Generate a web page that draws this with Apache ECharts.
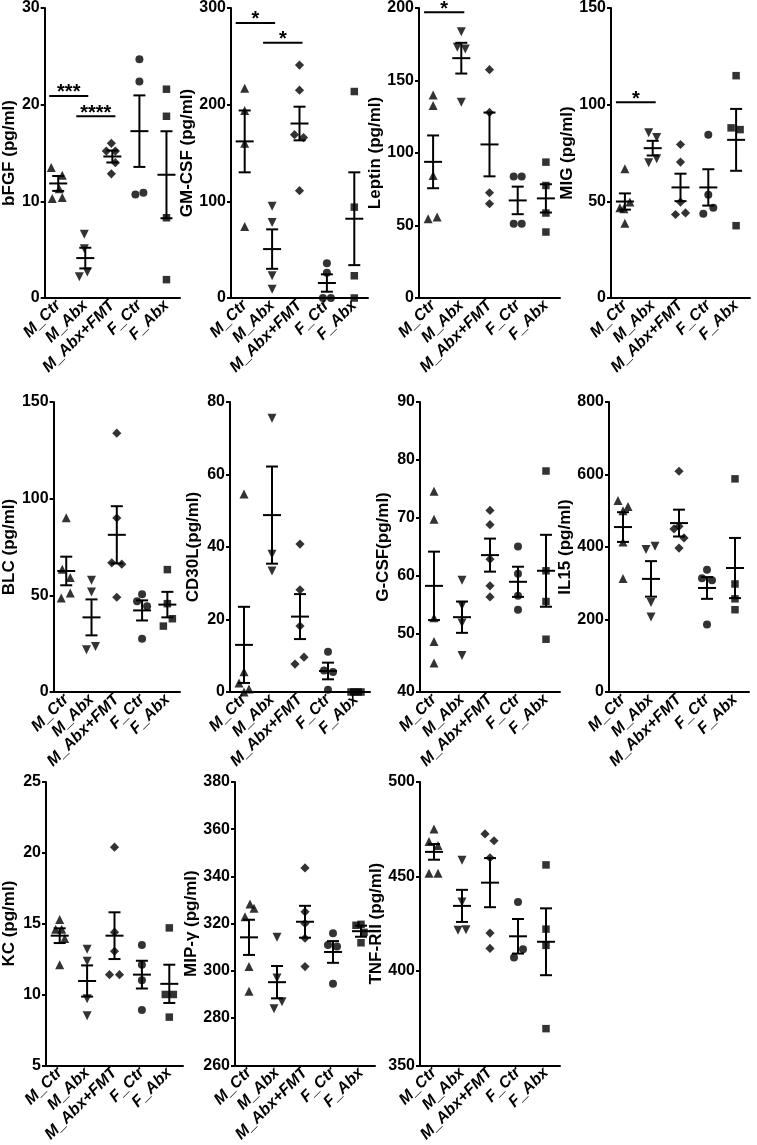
<!DOCTYPE html>
<html><head><meta charset="utf-8">
<script src="https://cdn.jsdelivr.net/npm/echarts@6/dist/echarts.min.js"></script>
<style>html,body{margin:0;padding:0;background:#fff}#c{width:757px;height:1145px}</style>
</head><body><div id="c"></div>
<script>
// ---------- DATA ----------
const categories = ['M_Ctr', 'M_Abx', 'M_Abx+FMT', 'F_Ctr', 'F_Abx'];

const bfgfValues = [[13.5, 12.7, 11.3, 10.3, 10.4], [6.6, 5.1, 2.2, 2.7], [16.0, 15.2, 15.2, 14.0, 12.85], [24.7, 22.4, 10.7, 10.9], [21.6, 18.8, 8.3, 1.9]];
const bfgfMean = [11.85, 4.13, 14.64, 17.26, 12.75];
const bfgfSem = [0.77, 1.07, 0.62, 3.7, 4.5];
const bfgfSig = [[0, 1, 20.9], [1, 2, 18.8]];
const bfgfSigText = ['***', '****'];

const gmcsfValues = [[217, 194, 160, 74], [95, 78, 23, 9], [241, 215, 169, 166, 111], [36, 26, 0, 0], [213.6, 94, 23, 0]];
const gmcsfMean = [162, 50.6, 180.5, 15.5, 82];
const gmcsfSem = [32, 20.4, 17.4, 9, 48];
const gmcsfSig = [[0, 1, 284.5], [1, 2, 264]];
const gmcsfSigText = ['*', '*'];

const leptinValues = [[140, 132.7, 84.5, 54.6, 55.8], [183.7, 172.9, 171.8, 135], [157.5, 128, 72.6, 65], [83.8, 83.8, 51.2, 51.2], [93.7, 77.6, 58.6, 45.5]];
const leptinMean = [93.9, 165.4, 105.9, 67.3, 68.7];
const leptinSem = [18.2, 10.6, 22, 9.5, 9.75];
const leptinSig = [[0, 1, 197]];
const leptinSigText = ['*'];

const migValues = [[66.8, 49.6, 46.7, 46.2, 38.7], [85.5, 83, 72, 70], [79.4, 70.3, 49.6, 43.2, 44], [84.4, 53.4, 43.6, 46.7], [115, 88, 87.1, 37.4]];
const migMean = [49.9, 77.5, 57.2, 57.2, 81.8];
const migSem = [4.2, 3.8, 7.1, 9.4, 16];
const migSig = [[0, 1, 101.3]];
const migSigText = ['*'];

const blcValues = [[90.1, 63.5, 59.2, 48.6, 51.2], [57.8, 51.7, 21.8, 23.5], [133.9, 90, 66.8, 66.1, 49], [50.5, 46.9, 44.3, 27.5], [63.3, 45.7, 34.1, 37.9]];
const blcMean = [62.6, 38.6, 81.3, 42.2, 45.2];
const blcSem = [7.4, 9.3, 14.8, 5.2, 6.6];

const cd30lValues = [[54.6, 5.6, 2.5, 0.8, 0], [75.5, 38, 33.4], [40.8, 28.2, 18.2, 7.7, 9.6], [11.1, 5.9, 5.5, 0.6], [0, 0, 0, 0]];
const cd30lMean = [13, 48.8, 20.8, 5.8, 0];
const cd30lSem = [10.5, 13.4, 6.2, 2.3, 0];

const gcsfValues = [[74.6, 69.8, 52.8, 48.7, 45], [59.25, 54.9, 51.9, 46.3], [71.3, 68.85, 62.9, 58.3, 56.4], [65.1, 60.4, 56.6, 54.2], [78.1, 60.9, 55.6, 49.1]];
const gcsfMean = [58.3, 52.9, 63.6, 59.0, 60.9];
const gcsfSem = [5.9, 2.7, 2.85, 2.6, 6.2];

const il15Values = [[528, 500, 512, 414, 313], [393, 402, 247, 207], [609, 450, 457, 425, 397], [337, 314, 308, 186], [588, 298, 257, 227]];
const il15Mean = [455, 312, 466, 287, 342];
const il15Sem = [41, 49, 37, 30, 83];

const kcValues = [[15.3, 14.6, 14.6, 13.95, 12.1], [13.2, 12.35, 9.7, 8.5], [20.4, 14.4, 13.05, 11.4, 11.4], [13.5, 12.1, 11.0, 8.9], [14.7, 10, 10, 8.4]];
const kcMean = [14.15, 10.95, 14.15, 11.4, 10.75];
const kcSem = [0.52, 1.1, 1.65, 0.98, 1.35];

const mipValues = [[328.3, 326.5, 322.9, 301.8, 291.4], [314.2, 297, 283.9, 286.9], [343.6, 325, 320.1, 313.8, 301.8], [315.9, 311, 310.3, 294.5], [319.7, 319.3, 316.3, 311.9]];
const mipMean = [314.2, 295.2, 320.8, 308, 316.8];
const mipSem = [7.45, 6.85, 6.75, 4.6, 2.35];

const tnfValues = [[475.1, 468.5, 466.4, 451.7, 451.7], [458.5, 436.5, 421.5, 421.8], [472.5, 468.9, 459.9, 420, 411.9], [436.5, 407.1, 411.4], [456.1, 422.1, 413.5, 369.4]];
const tnfMean = [463, 434.4, 446.7, 418.3, 415.4];
const tnfSem = [4.15, 8.5, 13, 9.15, 17.7];

// ---------- STYLE (horizontal jitter in px, layout) ----------
const bfgfJit = [[-7, 4, 1, -6, 4], [-1, -1, -6, 2], [-1, -6, 3, 3, -1], [0, 0, -4, 4], [0, 0, 0, 0]];
const gmcsfJit = [[0, 0, 0, 0], [0, 0, 0, 0], [0, 0, -5, 4, 0], [0, 0, -4, 4], [0, 0, 0, 0]];
const leptinJit = [[0, 0, 0, -5, 4], [0, -4, 4, 0], [0, 0, 0, 0], [-4, 4, -4, 4], [0, 0, 0, 0]];
const migJit = [[0, 5, -5, -1, 0], [-4, 4, 4, -4], [0, 0, 0, -5, 5], [0, 0, -5, 5], [0, -5, 4, 0]];
const blcJit = [[0, -4, 4, -5, 4], [0, 0, -5, 4], [0, 0, -5, 5, 0], [0, -5, 5, 0], [0, 0, -4, 5]];
const cd30lJit = [[0, 0, -5, 5, 0], [0, 0, 0], [0, 0, 0, -5, 4], [0, -4, 5, 0], [-5, 5, -2, 2]];
const gcsfJit = [[0, 0, 0, 0, 0], [0, 0, 0, 0], [0, 0, 0, 0, 0], [0, 0, 0, 0], [0, 0, 0, 0]];
const il15Jit = [[-5, 0, 5, 0, 0], [-5, 4, 0, 0], [0, -5, 0, 5, 0], [0, -5, 5, 0], [0, 0, 0, 0]];
const kcJit = [[0, -4, 2, 5, 0], [0, 0, 0, 0], [0, 0, 0, -5, 5], [0, 0, 0, 0], [0, -4, 4, 0]];
const mipJit = [[1, 5, -4, 0, 0], [0, 0, -3, 5], [0, 0, 0, 0, 0], [0, -5, 4, 0], [0, -5, 3, 0]];
const tnfJit = [[0, -5, 4, -5, 4], [0, 0, -4, 4], [-5, 4, 0, 0, 0], [0, -4, 5], [0, 0, 0, 0]];

const panels = [
  {name: 'bFGF (pg/ml)', v: bfgfValues, m: bfgfMean, s: bfgfSem, j: bfgfJit, sig: bfgfSig, sigT: bfgfSigText, min: 0, max: 30, step: 10, L: 40, T: 7, W: 140, H: 291, gap: 22},
  {name: 'GM-CSF (pg/ml)', v: gmcsfValues, m: gmcsfMean, s: gmcsfSem, j: gmcsfJit, sig: gmcsfSig, sigT: gmcsfSigText, min: 0, max: 300, step: 100, L: 231, T: 7, W: 137, H: 291, gap: 35},
  {name: 'Leptin (pg/ml)', v: leptinValues, m: leptinMean, s: leptinSem, j: leptinJit, sig: leptinSig, sigT: leptinSigText, min: 0, max: 200, step: 50, L: 419, T: 7, W: 141, H: 291, gap: 32},
  {name: 'MIG (pg/ml)', v: migValues, m: migMean, s: migSem, j: migJit, sig: migSig, sigT: migSigText, min: 0, max: 150, step: 50, L: 611, T: 7, W: 139, H: 291, gap: 34},
  {name: 'BLC (pg/ml)', v: blcValues, m: blcMean, s: blcSem, j: blcJit, min: 0, max: 150, step: 50, L: 40, T: 402, W: 140, H: 290, gap: 25},
  {name: 'CD30L(pg/ml)', v: cd30lValues, m: cd30lMean, s: cd30lSem, j: cd30lJit, min: 0, max: 80, step: 20, L: 230, T: 402, W: 140, H: 290, gap: 28},
  {name: 'G-CSF(pg/ml)', v: gcsfValues, m: gcsfMean, s: gcsfSem, j: gcsfJit, min: 40, max: 90, step: 10, L: 420, T: 402, W: 140, H: 290, gap: 28},
  {name: 'IL15 (pg/ml)', v: il15Values, m: il15Mean, s: il15Sem, j: il15Jit, min: 0, max: 800, step: 200, L: 609, T: 402, W: 140, H: 290, gap: 32},
  {name: 'KC (pg/ml)', v: kcValues, m: kcMean, s: kcSem, j: kcJit, min: 5, max: 25, step: 5, L: 43, T: 782, W: 140, H: 290, gap: 28},
  {name: 'MIP-γ (pg/ml)', v: mipValues, m: mipMean, s: mipSem, j: mipJit, min: 260, max: 380, step: 20, L: 235, T: 782, W: 140, H: 290, gap: 33},
  {name: 'TNF-RII (pg/ml)', v: tnfValues, m: tnfMean, s: tnfSem, j: tnfJit, min: 350, max: 500, step: 50, L: 420, T: 782, W: 140, H: 290, gap: 33}
];

const FONT = '"Liberation Sans", Arial, sans-serif';
const symbols = ['triangle', 'triangle', 'rect', 'circle', 'rect'];
const symRot = [0, 180, 45, 0, 0];
const symSize = [9, 9, 6.5, 8, 7.5];

const grid = [], xAxis = [], yAxis = [], series = [];
panels.forEach((p, k) => {
  grid.push({left: p.L, top: p.T, width: p.W, height: p.H, containLabel: false});
  xAxis.push({
    type: 'category', gridIndex: k, data: categories, boundaryGap: true,
    axisLine: {lineStyle: {color: '#000', width: 2}},
    axisTick: {alignWithLabel: true, length: 5, lineStyle: {color: '#000', width: 2}},
    axisLabel: {rotate: 45, interval: 0, color: '#000', fontWeight: 'bold', fontStyle: 'italic', fontSize: 16, fontFamily: FONT, margin: 5},
    splitLine: {show: false}
  });
  yAxis.push({
    type: 'value', gridIndex: k, min: p.min, max: p.max, interval: p.step,
    name: p.name, nameLocation: 'middle', nameGap: p.gap, nameRotate: 90,
    nameTextStyle: {color: '#000', fontWeight: 'bold', fontSize: 17, fontFamily: FONT},
    axisLine: {show: true, lineStyle: {color: '#000', width: 2}},
    axisTick: {show: true, length: 4, lineStyle: {color: '#000', width: 2}},
    axisLabel: {color: '#000', fontWeight: 'bold', fontSize: 16, fontFamily: FONT, margin: 5},
    splitLine: {show: false}
  });
  const pts = [];
  p.v.forEach((arr, g) => arr.forEach((val, i) => {
    pts.push({value: [g, val], symbol: symbols[g], symbolRotate: symRot[g], symbolSize: symSize[g], symbolOffset: [p.j[g][i], 0]});
  }));
  series.push({type: 'scatter', xAxisIndex: k, yAxisIndex: k, data: pts, itemStyle: {color: '#000'}, z: 3, clip: false});
  series.push({
    type: 'custom', xAxisIndex: k, yAxisIndex: k, z: 4, clip: false,
    data: p.m.map((mv, g) => [g, mv, p.s[g]]),
    renderItem: (params, api) => {
      const x = api.value(0), mv = api.value(1), sv = api.value(2);
      const c = api.coord([x, mv]);
      const t = api.coord([x, mv + sv]);
      const b = api.coord([x, mv - sv]);
      const st = {stroke: '#000', lineWidth: 2};
      return {type: 'group', children: [
        {type: 'line', shape: {x1: c[0] - 9, y1: c[1], x2: c[0] + 9, y2: c[1]}, style: st},
        {type: 'line', shape: {x1: t[0], y1: t[1], x2: b[0], y2: b[1]}, style: st},
        {type: 'line', shape: {x1: t[0] - 6, y1: t[1], x2: t[0] + 6, y2: t[1]}, style: st},
        {type: 'line', shape: {x1: b[0] - 6, y1: b[1], x2: b[0] + 6, y2: b[1]}, style: st}
      ]};
    }
  });
  if (p.sig) {
    series.push({
      type: 'custom', xAxisIndex: k, yAxisIndex: k, z: 4, clip: false,
      data: p.sig,
      renderItem: (params, api) => {
        const a = api.coord([api.value(0), api.value(2)]);
        const b = api.coord([api.value(1), api.value(2)]);
        const x1 = a[0] - 9, x2 = b[0] + 3;
        return {type: 'group', children: [
          {type: 'line', shape: {x1: x1, y1: a[1], x2: x2, y2: a[1]}, style: {stroke: '#000', lineWidth: 2}},
          {type: 'text', style: {text: p.sigT[params.dataIndex], x: (x1 + x2) / 2, y: a[1] + 7, align: 'center', verticalAlign: 'bottom', fill: '#000', font: 'bold 20px ' + FONT}}
        ]};
      }
    });
  }
});

const chart = echarts.init(document.getElementById('c'), null, {renderer: 'canvas'});
chart.setOption({animation: false, backgroundColor: '#fff', grid, xAxis, yAxis, series});
</script>
</body></html>
